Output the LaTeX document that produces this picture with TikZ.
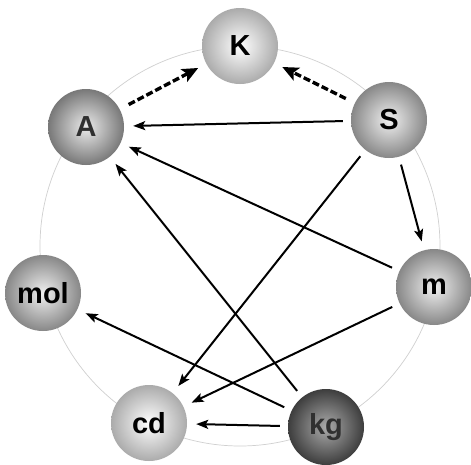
\documentclass[tikz,border=0pt]{standalone}
\usepackage{fontspec}
\setmainfont{Liberation Sans}
\usetikzlibrary{arrows.meta}
\definecolor{ringgray}{HTML}{D0D0D0}
\definecolor{txtdark}{HTML}{303030}
\tikzset{
  ball/.style={circle, minimum size=76pt, inner sep=0pt,
    font=\fontsize{29}{29}\selectfont\bfseries, text=black},
  light/.style={ball, inner color=white, outer color=black!33},
  mid/.style={ball, inner color=black!6, outer color=black!47},
  darkish/.style={ball, inner color=black!8, outer color=black!53, text=txtdark},
  dark/.style={ball, inner color=black!33, outer color=black!76, text=txtdark},
  solidarrow/.style={-{Stealth[length=12pt,width=9pt,inset=2.5pt]}, line width=2pt,
    shorten >=9pt, shorten <=8pt},
  dasharrow/.style={-{Stealth[length=16pt,width=14pt,inset=3.5pt]}, line width=3.4pt,
    dash pattern=on 7pt off 3pt, shorten >=9pt, shorten <=10pt},
  ring/.style={draw=ringgray, line width=0.7pt}
}
\begin{document}
\begin{tikzpicture}[x=1pt,y=-1pt]
\useasboundingbox[fill=white] (0,0) rectangle (471,464);
\draw[ring] (240,246) circle (200pt);
\node[light] (K) at (240,46) {K};
\node[darkish] (A) at (86,127) {A};
\node[mid] (S) at (389,120) {S};
\node[mid] (mol) at (43,293) {mol};
\node[mid] (m) at (434,287) {m};
\node[light] (cd) at (149,423) {cd};
\node[dark] (kg) at (326,427) {kg};
\draw[dasharrow] (A) -- (K);
\draw[dasharrow] (S) -- (K);
\draw[solidarrow] (S) -- (A);
\draw[solidarrow] (S) -- (m);
\draw[solidarrow] (S) -- (cd);
\draw[solidarrow] (m) -- (A);
\draw[solidarrow] (m) -- (cd);
\draw[solidarrow] (kg) -- (A);
\draw[solidarrow] (kg) -- (mol);
\draw[solidarrow] (kg) -- (cd);
\end{tikzpicture}
\end{document}
